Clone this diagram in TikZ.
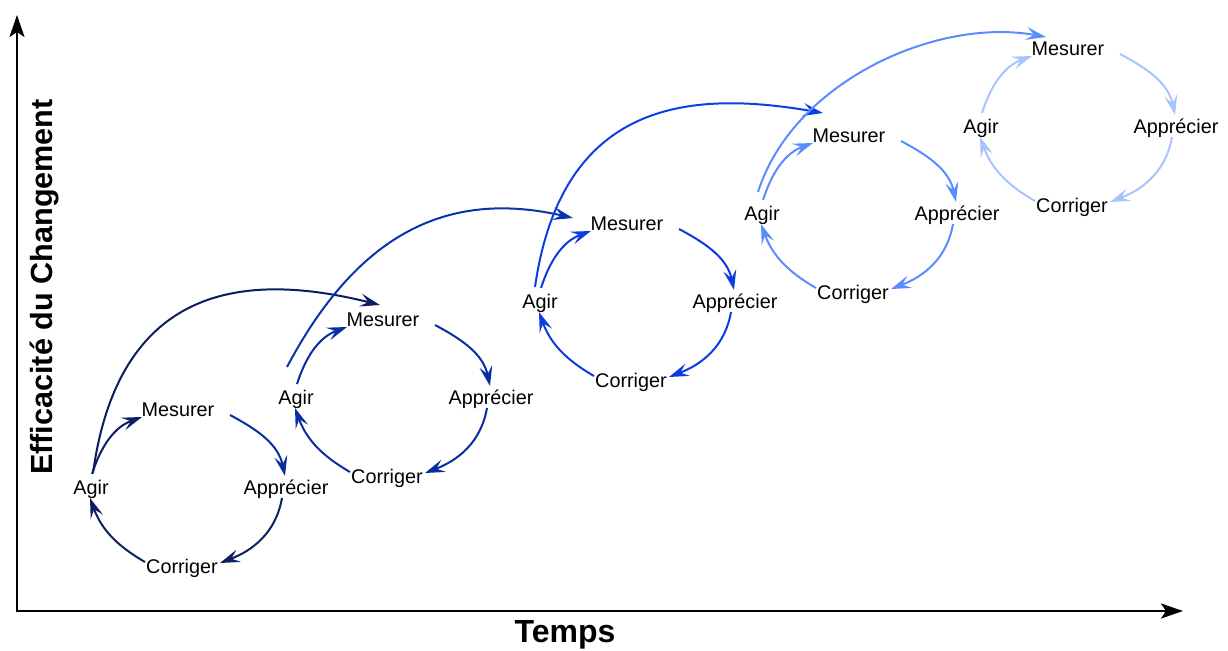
\documentclass[tikz,border=0pt]{standalone}
\usepackage{fontspec}
\setmainfont{Liberation Sans}
\usetikzlibrary{arrows.meta}
\definecolor{cA}{RGB}{12,33,100}
\definecolor{cAb}{RGB}{10,45,160}
\definecolor{cB}{RGB}{8,46,160}
\definecolor{cC}{RGB}{10,60,225}
\definecolor{cD}{RGB}{90,140,255}
\definecolor{cE}{RGB}{168,196,255}
\definecolor{bA}{RGB}{10,30,95}
\definecolor{bB}{RGB}{10,50,175}
\definecolor{bC}{RGB}{12,62,230}
\definecolor{bD}{RGB}{90,140,255}
\tikzset{
  lbl/.style={font=\fontsize{9.9}{12}\selectfont, inner sep=0pt, text height=0.72em, text depth=0.21em},
  arr/.style={line width=1pt, -{Stealth[length=10pt,width=6.5pt,inset=4pt]}},
  axis/.style={line width=1.2pt, -{Stealth[length=11pt,width=7.5pt,inset=2.5pt]}},
  axlbl/.style={font=\bfseries\fontsize{15.3}{18}\selectfont, inner sep=0pt}
}
\newcommand\mkcycle[5]{%
  \node[lbl] (a#1) at (#2,#3) {Agir};
  \node[lbl] (m#1) at ([shift={(87,78)}]a#1.center) {Mesurer};
  \node[lbl] (p#1) at ([shift={(195,0)}]a#1.center) {Appr\'ecier};
  \node[lbl] (c#1) at ([shift={(91,-79)}]a#1.center) {Corriger};
  \draw[arr,#4] ([shift={(1,15)}]a#1.center) to[out=72,in=200] ([shift={(-36,-6)}]m#1.center);
  \draw[arr,#5] ([shift={(52,-4)}]m#1.center) to[out=-28,in=102] ([shift={(-1,13)}]p#1.center);
  \draw[arr,#4] ([shift={(-4,-9)}]p#1.center) to[out=-100,in=21] ([shift={(38,5)}]c#1.center);
  \draw[arr,#4] ([shift={(-37,6)}]c#1.center) to[out=150,in=-70] ([shift={(-1,-9)}]a#1.center);
}
\begin{document}
\begin{tikzpicture}[x=0.5pt,y=0.5pt]
\useasboundingbox (0,0) rectangle (1228,650);
% axes
\coordinate (o) at (17,39);
\coordinate (ytop) at (17,635);
\coordinate (xend) at (1183,39);
\draw[axis] (o) -- (ytop);
\draw[axis] ([xshift=-0.6pt]o) -- (xend);
\node[axlbl, rotate=90] (ylab) at (45,363) {Efficacit\'e du Changement};
\node[axlbl, font=\bfseries\fontsize{16}{19}\selectfont] (xlab) at (565,15) {Temps};
% cycles
\mkcycle{1}{91}{161}{cA}{cAb}
\mkcycle{2}{296}{251}{cB}{cB}
\mkcycle{3}{540}{347}{cC}{cC}
\mkcycle{4}{762}{435}{cD}{cD}
\mkcycle{5}{981}{522}{cE}{cE}
% big arcs
\draw[arr,bA] ([shift={(2,16)}]a1.center) .. controls +(26,188) and +(-136,34) .. ([shift={(-3,16)}]m2.center);
\draw[arr,bB] ([shift={(-9,32)}]a2.center) .. controls +(70,132) and +(-127,29) .. ([shift={(-54,7)}]m3.center);
\draw[arr,bC] ([shift={(-5,16)}]a3.center) .. controls +(27,187) and +(-133,23) .. ([shift={(-26,24)}]m4.center);
\draw[arr,bD] ([shift={(-4,23)}]a4.center) .. controls +(35,110) and +(-110,20) .. ([shift={(-22,13)}]m5.center);
\end{tikzpicture}
\end{document}
